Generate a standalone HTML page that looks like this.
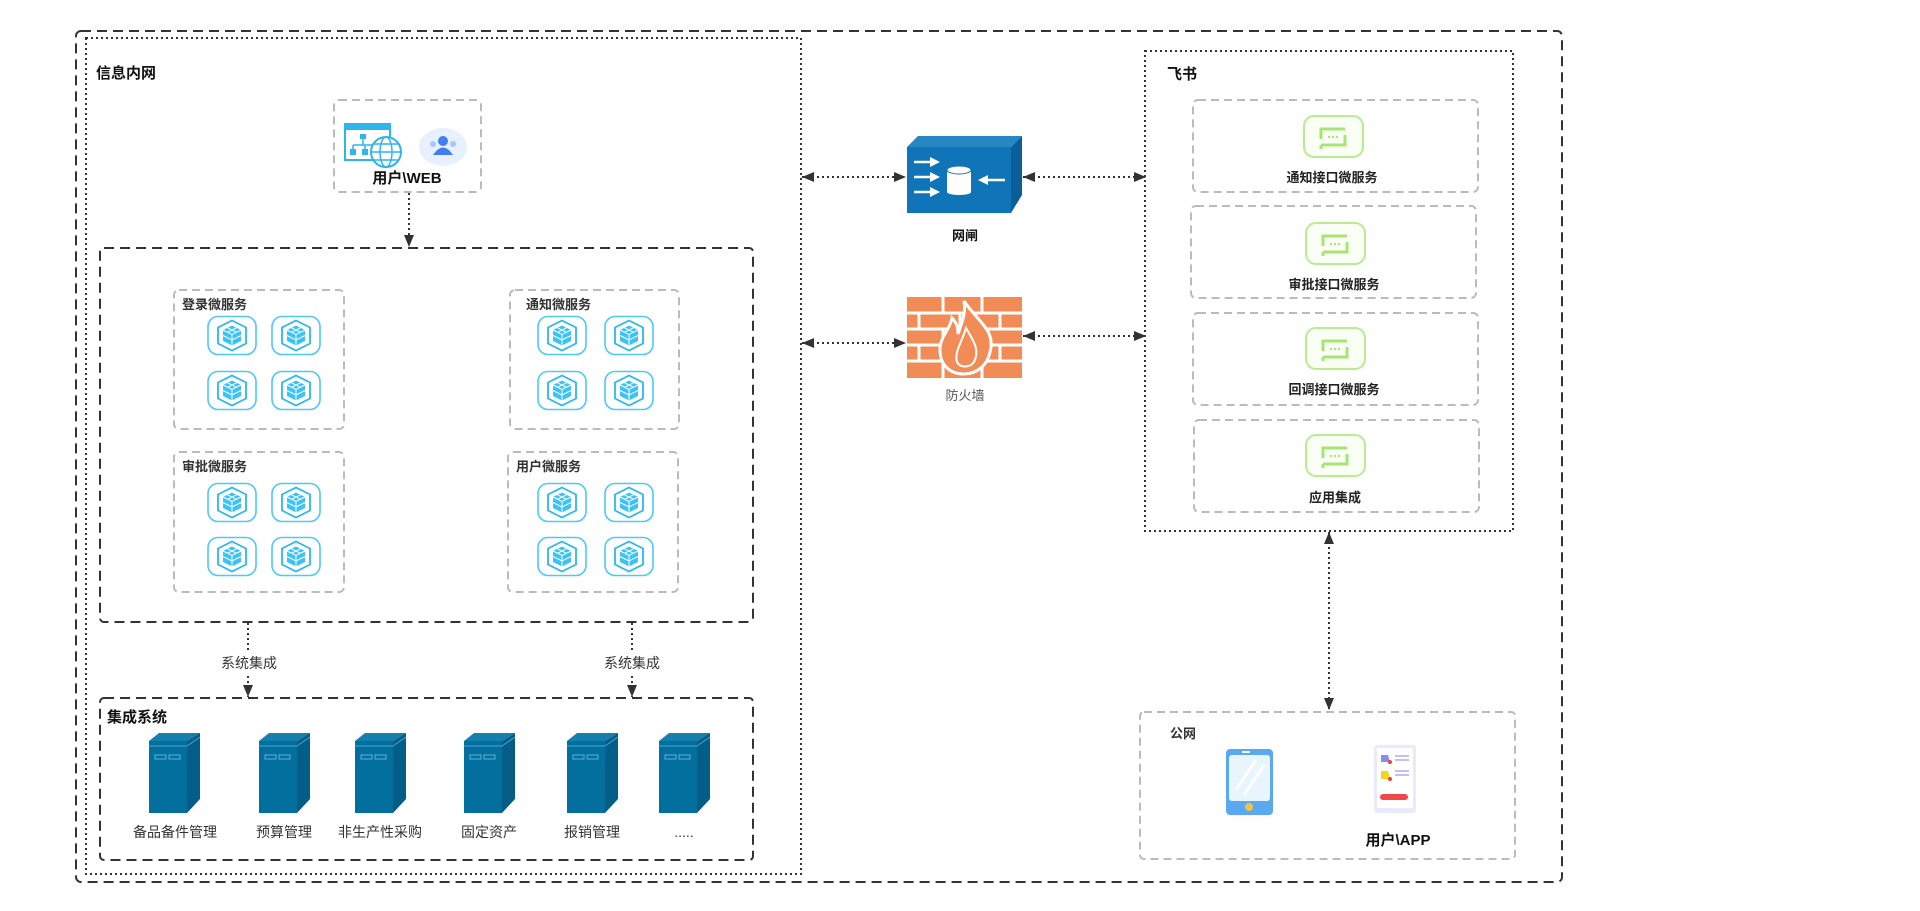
<!DOCTYPE html>
<html><head><meta charset="utf-8">
<style>
html,body{margin:0;padding:0;background:#fff;}
svg{display:block;}
text{font-family:"Liberation Sans","Noto Sans CJK SC",sans-serif;}
.b{font-weight:bold;font-size:14px;fill:#111;}
.r{font-size:14px;fill:#333;}
</style></head><body>
<svg width="1920" height="911" viewBox="0 0 1920 911" xmlns="http://www.w3.org/2000/svg">
<defs>
<marker id="ah" viewBox="0 0 12 10" refX="12" refY="5" markerWidth="12" markerHeight="10" markerUnits="userSpaceOnUse" orient="auto-start-reverse">
<path d="M0,0 L12,5 L0,10 z" fill="#333"/></marker>
<symbol id="ms" viewBox="0 0 50 40">
<rect x="1" y="1" width="48" height="38" rx="10" fill="#fff" stroke="#4cc9f6" stroke-width="1.6"/>
<polygon points="25,5 39,12 39,28 25,35 11,28 11,12" fill="none" stroke="#2cb7ef" stroke-width="1.8"/>
<polygon points="25,10 34,14.5 34,25.5 25,30 16,25.5 16,14.5" fill="#3cc3f5"/>
<path d="M16,14.5 L25,19 L34,14.5 M25,19 V30 M20.5,12.3 L29.5,16.8 M29.5,12.3 L20.5,16.8 M16,20 L25,24.5 L34,20" stroke="#fff" stroke-width="1" fill="none"/>
</symbol>
<symbol id="chat" viewBox="0 0 61 43">
<rect x="1" y="1" width="59" height="41" rx="10" fill="#fafff5" stroke="#b8ec8e" stroke-width="2"/>
<path d="M18,24 V14 H42 M42,20 V30 H18" fill="none" stroke="#a8e473" stroke-width="3"/>
<path d="M18,30 V34" stroke="#a8e473" stroke-width="3"/>
<circle cx="26" cy="22" r="1.2" fill="#a8e473"/><circle cx="30" cy="22" r="1.2" fill="#a8e473"/><circle cx="34" cy="22" r="1.2" fill="#a8e473"/>
</symbol>
<symbol id="srv" viewBox="0 0 51 80">
<polygon points="0,8 10,0 51,0 38,8" fill="#1580ae"/>
<polygon points="38,8 51,0 51,66 38,80" fill="#045d86"/>
<rect x="0" y="8" width="38" height="72" fill="#036f9f"/>
<path d="M0,13 H38 M38,13 L51,4" stroke="#4da3c9" stroke-width="1" fill="none"/>
<rect x="6" y="22" width="11" height="4" fill="none" stroke="#5fb0d4" stroke-width="1"/>
<rect x="20" y="22" width="11" height="4" fill="none" stroke="#5fb0d4" stroke-width="1"/>
</symbol>
</defs>

<rect x="76" y="31" width="1486" height="851" rx="5" fill="none" stroke="#333" stroke-width="2" stroke-dasharray="10,6"/>
<rect x="86" y="38" width="715" height="836" fill="none" stroke="#333" stroke-width="2" stroke-dasharray="2,3"/>
<text class="b" x="96" y="78" style="font-size:15px">信息内网</text>

<rect x="334" y="100" width="147" height="92" rx="5" fill="none" stroke="#bbb" stroke-width="2" stroke-dasharray="8,5"/>
<rect x="345" y="124" width="45" height="36" fill="#fff" stroke="#2fb4ee" stroke-width="2"/>
<rect x="345" y="124" width="45" height="6" fill="#2fb4ee"/>
<rect x="360" y="134" width="6" height="5" fill="#2fb4ee"/><rect x="350" y="149" width="6" height="6" fill="#2fb4ee"/><rect x="362" y="149" width="6" height="6" fill="#2fb4ee"/>
<path d="M363,139 V145 M353,145 H372 M353,145 V149 M365,145 V149" stroke="#2fb4ee" stroke-width="1.5" fill="none"/>
<circle cx="386" cy="152" r="15" fill="#fff" stroke="#2fb4ee" stroke-width="2"/>
<ellipse cx="386" cy="152" rx="6" ry="15" fill="none" stroke="#2fb4ee" stroke-width="1.5"/>
<path d="M371,152 H401 M374,144 H398 M374,160 H398" stroke="#2fb4ee" stroke-width="1.5"/>
<ellipse cx="443" cy="147" rx="24" ry="19" fill="#e8f0fe"/>
<circle cx="443" cy="141" r="5" fill="#3f7ff2"/><path d="M433,155 Q443,140 453,155 Z" fill="#3f7ff2"/>
<circle cx="433" cy="144" r="3" fill="#a9c6f8"/><circle cx="453" cy="144" r="3" fill="#a9c6f8"/>
<text class="b" x="407" y="183" text-anchor="middle" style="font-size:15px">用户\WEB</text>
<line x1="409" y1="193" x2="409" y2="247" stroke="#333" stroke-width="2" stroke-dasharray="2,3" marker-end="url(#ah)"/>

<rect x="100" y="248" width="653" height="374" rx="4" fill="none" stroke="#333" stroke-width="2" stroke-dasharray="10,6"/>

<g>
<rect x="174" y="290" width="170" height="139" rx="5" fill="none" stroke="#bbb" stroke-width="2" stroke-dasharray="8,5"/>
<text class="b" x="182" y="309" style="font-size:13px;fill:#333">登录微服务</text>
<use href="#ms" x="207" y="315" width="50" height="41"/><use href="#ms" x="271" y="315" width="50" height="41"/>
<use href="#ms" x="207" y="370" width="50" height="41"/><use href="#ms" x="271" y="370" width="50" height="41"/>
</g>
<g>
<rect x="510" y="290" width="169" height="139" rx="5" fill="none" stroke="#bbb" stroke-width="2" stroke-dasharray="8,5"/>
<text class="b" x="526" y="309" style="font-size:13px;fill:#333">通知微服务</text>
<use href="#ms" x="537" y="315" width="50" height="41"/><use href="#ms" x="604" y="315" width="50" height="41"/>
<use href="#ms" x="537" y="370" width="50" height="41"/><use href="#ms" x="604" y="370" width="50" height="41"/>
</g>
<g>
<rect x="174" y="452" width="170" height="140" rx="5" fill="none" stroke="#bbb" stroke-width="2" stroke-dasharray="8,5"/>
<text class="b" x="182" y="471" style="font-size:13px;fill:#333">审批微服务</text>
<use href="#ms" x="207" y="482" width="50" height="41"/><use href="#ms" x="271" y="482" width="50" height="41"/>
<use href="#ms" x="207" y="536" width="50" height="41"/><use href="#ms" x="271" y="536" width="50" height="41"/>
</g>
<g>
<rect x="508" y="452" width="170" height="140" rx="5" fill="none" stroke="#bbb" stroke-width="2" stroke-dasharray="8,5"/>
<text class="b" x="516" y="471" style="font-size:13px;fill:#333">用户微服务</text>
<use href="#ms" x="537" y="482" width="50" height="41"/><use href="#ms" x="604" y="482" width="50" height="41"/>
<use href="#ms" x="537" y="536" width="50" height="41"/><use href="#ms" x="604" y="536" width="50" height="41"/>
</g>

<line x1="248" y1="623" x2="248" y2="650" stroke="#333" stroke-width="2" stroke-dasharray="2,3"/>
<line x1="248" y1="676" x2="248" y2="697" stroke="#333" stroke-width="2" stroke-dasharray="2,3" marker-end="url(#ah)"/>
<text class="r" x="249" y="668" text-anchor="middle">系统集成</text>
<line x1="632" y1="623" x2="632" y2="650" stroke="#333" stroke-width="2" stroke-dasharray="2,3"/>
<line x1="632" y1="676" x2="632" y2="697" stroke="#333" stroke-width="2" stroke-dasharray="2,3" marker-end="url(#ah)"/>
<text class="r" x="632" y="668" text-anchor="middle">系统集成</text>

<rect x="100" y="698" width="653" height="162" rx="4" fill="none" stroke="#333" stroke-width="2" stroke-dasharray="10,6"/>
<text class="b" x="107" y="722" style="font-size:15px">集成系统</text>
<use href="#srv" x="149" y="733" width="51" height="80"/>
<use href="#srv" x="259" y="733" width="51" height="80"/>
<use href="#srv" x="355" y="733" width="51" height="80"/>
<use href="#srv" x="464" y="733" width="51" height="80"/>
<use href="#srv" x="567" y="733" width="51" height="80"/>
<use href="#srv" x="659" y="733" width="51" height="80"/>
<text class="r" x="175" y="837" text-anchor="middle">备品备件管理</text>
<text class="r" x="284" y="837" text-anchor="middle">预算管理</text>
<text class="r" x="380" y="837" text-anchor="middle">非生产性采购</text>
<text class="r" x="489" y="837" text-anchor="middle">固定资产</text>
<text class="r" x="592" y="837" text-anchor="middle">报销管理</text>
<text class="r" x="684" y="837" text-anchor="middle">.....</text>

<polygon points="907,147 918,136 1022,136 1011,147" fill="#2786c4"/>
<polygon points="1011,147 1022,136 1022,195 1011,213" fill="#0b5f98"/>
<rect x="907" y="147" width="104" height="66" fill="#0f74b8"/>
<g stroke="#fff" stroke-width="2.5" fill="#fff">
<path d="M914,162 H932" /><path d="M914,177 H932"/><path d="M914,192 H932"/>
<path d="M1005,180 H986"/>
</g>
<g fill="#fff">
<polygon points="930,157 940,162 930,167"/><polygon points="930,172 940,177 930,182"/><polygon points="930,187 940,192 930,197"/>
<polygon points="988,175 978,180 988,185"/>
<rect x="947" y="170" width="24" height="22"/>
<ellipse cx="959" cy="170" rx="12" ry="4" fill="#fff" stroke="#0f74b8" stroke-width="1"/>
<ellipse cx="959" cy="192" rx="12" ry="3"/>
</g>
<text class="b" x="965" y="240" text-anchor="middle" style="font-size:13px">网闸</text>

<g>
<rect x="907" y="297" width="115" height="81" fill="#f28c57"/>
<g stroke="#fff" stroke-width="3">
<path d="M907,313 H1022 M907,329 H1022 M907,345 H1022 M907,361 H1022"/>
<path d="M943,297 V313 M982,297 V313 M919,313 V329 M960,313 V329 M1000,313 V329 M943,329 V345 M982,329 V345 M919,345 V361 M960,345 V361 M1000,345 V361 M943,361 V378 M982,361 V378"/>
</g>
<path d="M964,301 C978,322 996,330 990,352 C987,367 975,374 964,374 C950,374 940,365 940,350 C940,336 950,330 952,318 C958,324 958,330 958,334 C962,322 966,314 964,301 Z" fill="#f28c57" stroke="#fff" stroke-width="3"/>
<path d="M966,328 C974,342 980,350 974,362 C970,368 960,368 957,362 C954,352 962,342 966,328 Z" fill="none" stroke="#fff" stroke-width="2"/>
</g>
<text x="965" y="400" text-anchor="middle" style="font-size:13px;fill:#555">防火墙</text>

<line x1="802" y1="177" x2="906" y2="177" stroke="#333" stroke-width="2" stroke-dasharray="2,3" marker-start="url(#ah)" marker-end="url(#ah)"/>
<line x1="1023" y1="177" x2="1146" y2="177" stroke="#333" stroke-width="2" stroke-dasharray="2,3" marker-start="url(#ah)" marker-end="url(#ah)"/>
<line x1="802" y1="343" x2="906" y2="343" stroke="#333" stroke-width="2" stroke-dasharray="2,3" marker-start="url(#ah)" marker-end="url(#ah)"/>
<line x1="1023" y1="336" x2="1146" y2="336" stroke="#333" stroke-width="2" stroke-dasharray="2,3" marker-start="url(#ah)" marker-end="url(#ah)"/>

<rect x="1145" y="51" width="368" height="480" fill="none" stroke="#333" stroke-width="2" stroke-dasharray="2,3"/>
<text class="b" x="1167" y="79" style="font-size:15px">飞书</text>
<g>
<rect x="1193" y="100" width="285" height="92" rx="5" fill="none" stroke="#bbb" stroke-width="2" stroke-dasharray="8,5"/>
<use href="#chat" x="1303" y="115" width="61" height="43"/>
<text class="b" x="1332" y="182" text-anchor="middle" style="font-size:13px;fill:#222">通知接口微服务</text>
<rect x="1191" y="206" width="285" height="92" rx="5" fill="none" stroke="#bbb" stroke-width="2" stroke-dasharray="8,5"/>
<use href="#chat" x="1305" y="222" width="61" height="43"/>
<text class="b" x="1334" y="289" text-anchor="middle" style="font-size:13px;fill:#222">审批接口微服务</text>
<rect x="1193" y="313" width="285" height="92" rx="5" fill="none" stroke="#bbb" stroke-width="2" stroke-dasharray="8,5"/>
<use href="#chat" x="1305" y="327" width="61" height="43"/>
<text class="b" x="1334" y="394" text-anchor="middle" style="font-size:13px;fill:#222">回调接口微服务</text>
<rect x="1194" y="420" width="285" height="92" rx="5" fill="none" stroke="#bbb" stroke-width="2" stroke-dasharray="8,5"/>
<use href="#chat" x="1305" y="434" width="61" height="43"/>
<text class="b" x="1335" y="502" text-anchor="middle" style="font-size:13px;fill:#222">应用集成</text>
</g>

<line x1="1329" y1="532" x2="1329" y2="710" stroke="#333" stroke-width="2" stroke-dasharray="2,3" marker-start="url(#ah)" marker-end="url(#ah)"/>

<rect x="1140" y="712" width="375" height="147" rx="4" fill="none" stroke="#bbb" stroke-width="2" stroke-dasharray="8,5"/>
<text class="b" x="1170" y="738" style="font-size:13px;fill:#333">公网</text>
<rect x="1226" y="749" width="47" height="66" rx="4" fill="#5aa9f0"/>
<rect x="1229" y="755" width="41" height="46" rx="3" fill="#e8f5fd"/>
<path d="M1236,790 L1256,760 M1244,795 L1264,765" stroke="#fff" stroke-width="3"/>
<circle cx="1249" cy="807" r="4" fill="#f5c242"/>
<rect x="1242" y="751" width="8" height="2" fill="#fff"/>
<rect x="1374" y="745" width="42" height="68" rx="3" fill="#eaeafd"/>
<rect x="1377" y="748" width="36" height="60" rx="2" fill="#fff"/>
<polygon points="1381,755 1388,755 1390,762 1381,762" fill="#8c8cf0"/>
<circle cx="1390" cy="762" r="2" fill="#f04040"/>
<path d="M1395,756 H1409 M1395,760 H1409 M1395,771 H1409 M1395,775 H1409" stroke="#9a9af2" stroke-width="1.3"/>
<polygon points="1381,771 1388,771 1390,779 1381,779" fill="#f5d41c"/>
<circle cx="1390" cy="779" r="2" fill="#f04040"/>
<rect x="1380" y="794" width="28" height="6" rx="3" fill="#f04848"/>
<text class="b" x="1398" y="845" text-anchor="middle" style="font-size:15px">用户\APP</text>
</svg>
</body></html>
